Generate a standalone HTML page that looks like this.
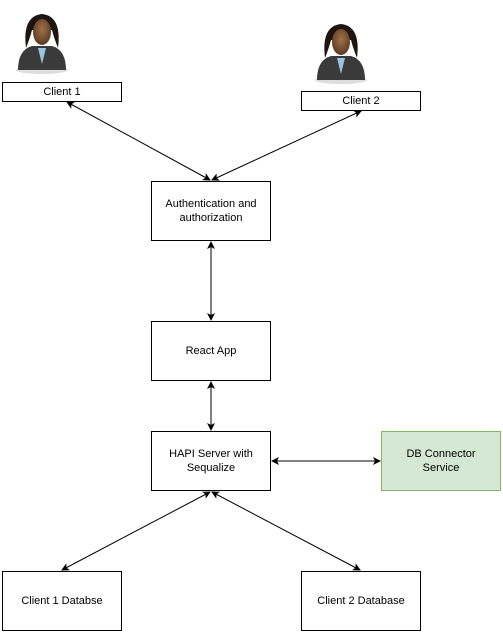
<!DOCTYPE html>
<html><head><style>
body{margin:0;background:#fff;width:503px;height:633px;overflow:hidden;font-family:"Liberation Sans",sans-serif;}
.b{position:absolute;box-sizing:border-box;border:1px solid #000;background:#fff;display:flex;align-items:center;justify-content:center;text-align:center;font-size:11px;line-height:14px;}
</style></head><body>
<svg width="503" height="633" style="position:absolute;left:0;top:0">
<defs>
<marker id="a" markerWidth="8" markerHeight="8" refX="7" refY="4" orient="auto-start-reverse" markerUnits="userSpaceOnUse"><path d="M0,0 L8,4 L0,8 L2,4 Z" fill="#000"/></marker>
<radialGradient id="f" cx="50%" cy="40%" r="60%"><stop offset="0" stop-color="#a0704a"/><stop offset="1" stop-color="#5a3a22"/></radialGradient>
<g id="p">
<ellipse cx="28" cy="62" rx="26" ry="4" fill="#ddd"/>
<path d="M4,62 Q4,42 18,38 L38,38 Q52,42 52,62 Z" fill="#3a3a3a"/>
<path d="M24,40 L28,56 L32,40 Z" fill="#9cc3dc"/>
<path d="M12,40 Q8,8 28,6 Q48,8 44,40 Q40,30 38,22 L18,22 Q16,30 12,40Z" fill="#1e1410"/>
<ellipse cx="28" cy="24" rx="9" ry="13" fill="url(#f)"/>
</g>
</defs>
<use href="#p" x="14" y="8"/>
<use href="#p" x="313" y="18"/>
<g stroke="#000" stroke-width="1" fill="none" marker-start="url(#a)" marker-end="url(#a)">
<line x1="67" y1="102" x2="210" y2="180"/>
<line x1="361" y1="111" x2="212" y2="180"/>
<line x1="211" y1="242" x2="211" y2="320"/>
<line x1="211" y1="382" x2="211" y2="430"/>
<line x1="272" y1="461" x2="380" y2="461"/>
<line x1="210" y1="492" x2="62" y2="570"/>
<line x1="212" y1="492" x2="360" y2="570"/>
</g>
</svg>
<div class="b" style="left:2px;top:82px;width:120px;height:20px">Client 1</div>
<div class="b" style="left:301px;top:91px;width:120px;height:20px">Client 2</div>
<div class="b" style="left:151px;top:181px;width:120px;height:60px">Authentication and<br>authorization</div>
<div class="b" style="left:151px;top:321px;width:120px;height:60px">React App</div>
<div class="b" style="left:151px;top:431px;width:120px;height:60px">HAPI Server with<br>Sequalize</div>
<div class="b" style="left:381px;top:431px;width:120px;height:60px;background:#d5e8d4;border-color:#82b366">DB Connector<br>Service</div>
<div class="b" style="left:2px;top:571px;width:120px;height:60px">Client 1 Databse</div>
<div class="b" style="left:301px;top:571px;width:120px;height:60px">Client 2 Database</div>
</body></html>
